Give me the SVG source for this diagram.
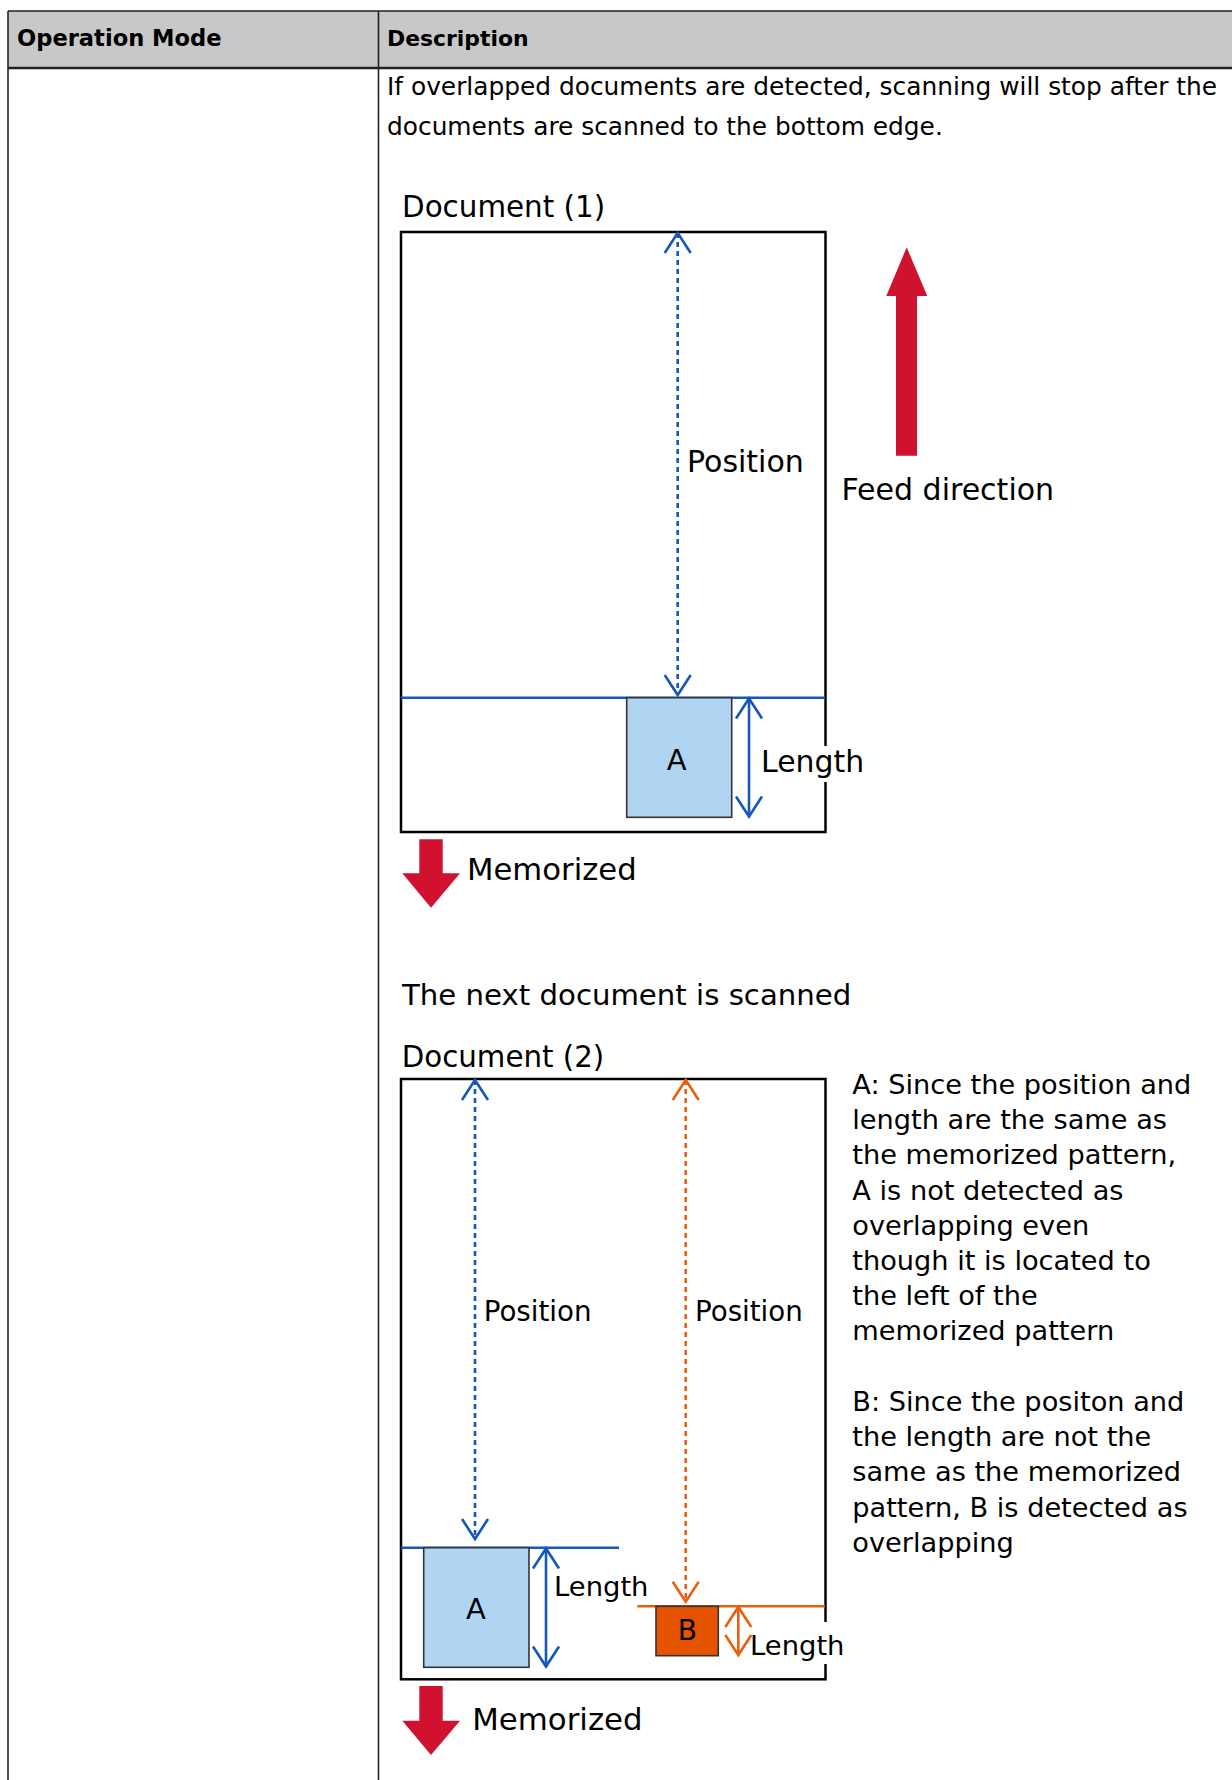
<svg xmlns="http://www.w3.org/2000/svg" width="1232" height="1780" viewBox="0 0 1232 1780">
<defs>
<style>
text{font-family:"DejaVu Sans","Liberation Sans",sans-serif;fill:#000}
.hdr{font-weight:bold;font-size:22.6px}
.body{font-size:24.85px}
.lbl{font-size:30px}
.para{font-size:27.2px}
.doc{fill:none;stroke:#000;stroke-width:2.5}
.dotB{fill:none;stroke:#1558b8;stroke-width:2.6;stroke-dasharray:5 4}
.dotO{fill:none;stroke:#e8600f;stroke-width:2.6;stroke-dasharray:5 4}
.lenB{fill:none;stroke:#1558b8;stroke-width:2.6}
.lenO{fill:none;stroke:#e8600f;stroke-width:2.6}
.boxA{fill:#b0d5f3;stroke:#333;stroke-width:1.6}
.boxB{fill:#e55300;stroke:#333;stroke-width:1.6}
.red{fill:#d0112f}
.tl{stroke:#222;fill:none}
</style>
<marker id="mB" markerUnits="userSpaceOnUse" markerWidth="30" markerHeight="32" viewBox="-23 -16 26 32" refX="0" refY="0" orient="auto-start-reverse">
<path d="M-20,-13 L0,0 L-20,13" fill="none" stroke="#1558b8" stroke-width="2.6" stroke-dasharray="none"/>
</marker>
<marker id="mO" markerUnits="userSpaceOnUse" markerWidth="30" markerHeight="32" viewBox="-23 -16 26 32" refX="0" refY="0" orient="auto-start-reverse">
<path d="M-20,-13 L0,0 L-20,13" fill="none" stroke="#e8600f" stroke-width="2.6" stroke-dasharray="none"/>
</marker>
</defs>
<rect width="1232" height="1780" fill="#fff"/>

<g id="table">
<rect x="8" y="11" width="1226" height="57" fill="#c8c8c8"/>
<line class="tl" x1="8" y1="11" x2="1232" y2="11" stroke-width="1.6"/>
<line class="tl" x1="8" y1="68" x2="1232" y2="68" stroke-width="2.6"/>
<line class="tl" x1="8" y1="11" x2="8" y2="1780" stroke-width="1.6"/>
<line class="tl" x1="378.5" y1="11" x2="378.5" y2="1780" stroke-width="1.6"/>
<text class="hdr" x="17" y="46">Operation Mode</text>
<text class="hdr" x="387" y="46" style="font-size:21.9px">Description</text>
<text class="body" x="387" y="95">If overlapped documents are detected, scanning will stop after the</text>
<text class="body" x="387" y="135">documents are scanned to the bottom edge.</text>
</g>

<g id="doc1">
<text x="402" y="217" style="font-size:29.4px">Document (1)</text>
<rect class="doc" x="401" y="232" width="424.5" height="600"/>
<line x1="401" y1="697.7" x2="825" y2="697.7" class="lenB"/>
<rect class="boxA" x="626.7" y="697.7" width="105" height="119.6"/>
<text x="676.7" y="770" text-anchor="middle" style="font-size:29px">A</text>
<text class="lbl" x="687" y="472">Position</text>
<rect x="760" y="746" width="106" height="36" fill="#fff"/>
<text class="lbl" x="761" y="771.7" style="font-size:29.9px">Length</text>
</g>

<g id="feed">
<polygon class="red" points="896,455.7 917,455.7 917,296 927.3,296 906.7,247.3 886.3,296 896,296"/>
<text x="841.5" y="500" style="font-size:30px">Feed direction</text>
</g>

<g id="mem1">
<polygon class="red" points="419.3,839.3 442.7,839.3 442.7,873.3 460,873.3 431,907.7 402.3,873.3 419.3,873.3"/>
<text x="467" y="880" style="font-size:30.7px">Memorized</text>
</g>

<g id="doc2">
<text x="402" y="1005" style="font-size:29.2px">The next document is scanned</text>
<text x="401.7" y="1066.7" style="font-size:29.3px">Document (2)</text>
<rect class="doc" x="401" y="1079" width="424.5" height="600.3"/>
<line x1="401" y1="1547.7" x2="619" y2="1547.7" class="lenB"/>
<line x1="637.3" y1="1606.3" x2="825" y2="1606.3" class="lenO"/>
<rect class="boxA" x="423.7" y="1547.7" width="105.3" height="119.6"/>
<text x="476" y="1619" text-anchor="middle" style="font-size:29px">A</text>
<rect class="boxB" x="656" y="1606.3" width="62.3" height="49.4"/>
<text x="687.3" y="1640" text-anchor="middle" style="font-size:28px">B</text>
<text x="483.7" y="1320.6" style="font-size:27.7px">Position</text>
<text x="695" y="1320.6" style="font-size:27.7px">Position</text>
<text x="554" y="1596" style="font-size:27.4px">Length</text>
<rect x="752" y="1622" width="96" height="42" fill="#fff"/>
<text x="750" y="1655" style="font-size:27.4px">Length</text>
</g>

<g id="mem2">
<polygon class="red" points="419.3,1686 442.7,1686 442.7,1720.7 460,1720.7 431,1755 402.3,1720.7 419.3,1720.7"/>
<text x="472.3" y="1730" style="font-size:30.8px">Memorized</text>
</g>

<g id="notes">
<text class="para" x="852.3" y="1094">A: Since the position and</text>
<text class="para" x="852.3" y="1129.2">length are the same as</text>
<text class="para" x="852.3" y="1164.4">the memorized pattern,</text>
<text class="para" x="852.3" y="1199.6">A is not detected as</text>
<text class="para" x="852.3" y="1234.8">overlapping even</text>
<text class="para" x="852.3" y="1270">though it is located to</text>
<text class="para" x="852.3" y="1305.2">the left of the</text>
<text class="para" x="852.3" y="1340.4">memorized pattern</text>
<text class="para" x="852.3" y="1411">B: Since the positon and</text>
<text class="para" x="852.3" y="1446.2">the length are not the</text>
<text class="para" x="852.3" y="1481.4">same as the memorized</text>
<text class="para" x="852.3" y="1516.6">pattern, B is detected as</text>
<text class="para" x="852.3" y="1551.8">overlapping</text>
</g>

<g id="connectors">
<line class="dotB" x1="677.7" y1="233" x2="677.7" y2="695" marker-start="url(#mB)" marker-end="url(#mB)"/>
<line class="lenB" x1="749" y1="698.5" x2="749" y2="816.5" marker-start="url(#mB)" marker-end="url(#mB)"/>
<line class="dotB" x1="475" y1="1080" x2="475" y2="1539" marker-start="url(#mB)" marker-end="url(#mB)"/>
<line class="lenB" x1="546" y1="1548.5" x2="546" y2="1666.5" marker-start="url(#mB)" marker-end="url(#mB)"/>
<line class="dotO" x1="685.7" y1="1080" x2="685.7" y2="1601.7" marker-start="url(#mO)" marker-end="url(#mO)"/>
<line class="lenO" x1="738.3" y1="1607" x2="738.3" y2="1655" marker-start="url(#mO)" marker-end="url(#mO)"/>
</g>
</svg>
